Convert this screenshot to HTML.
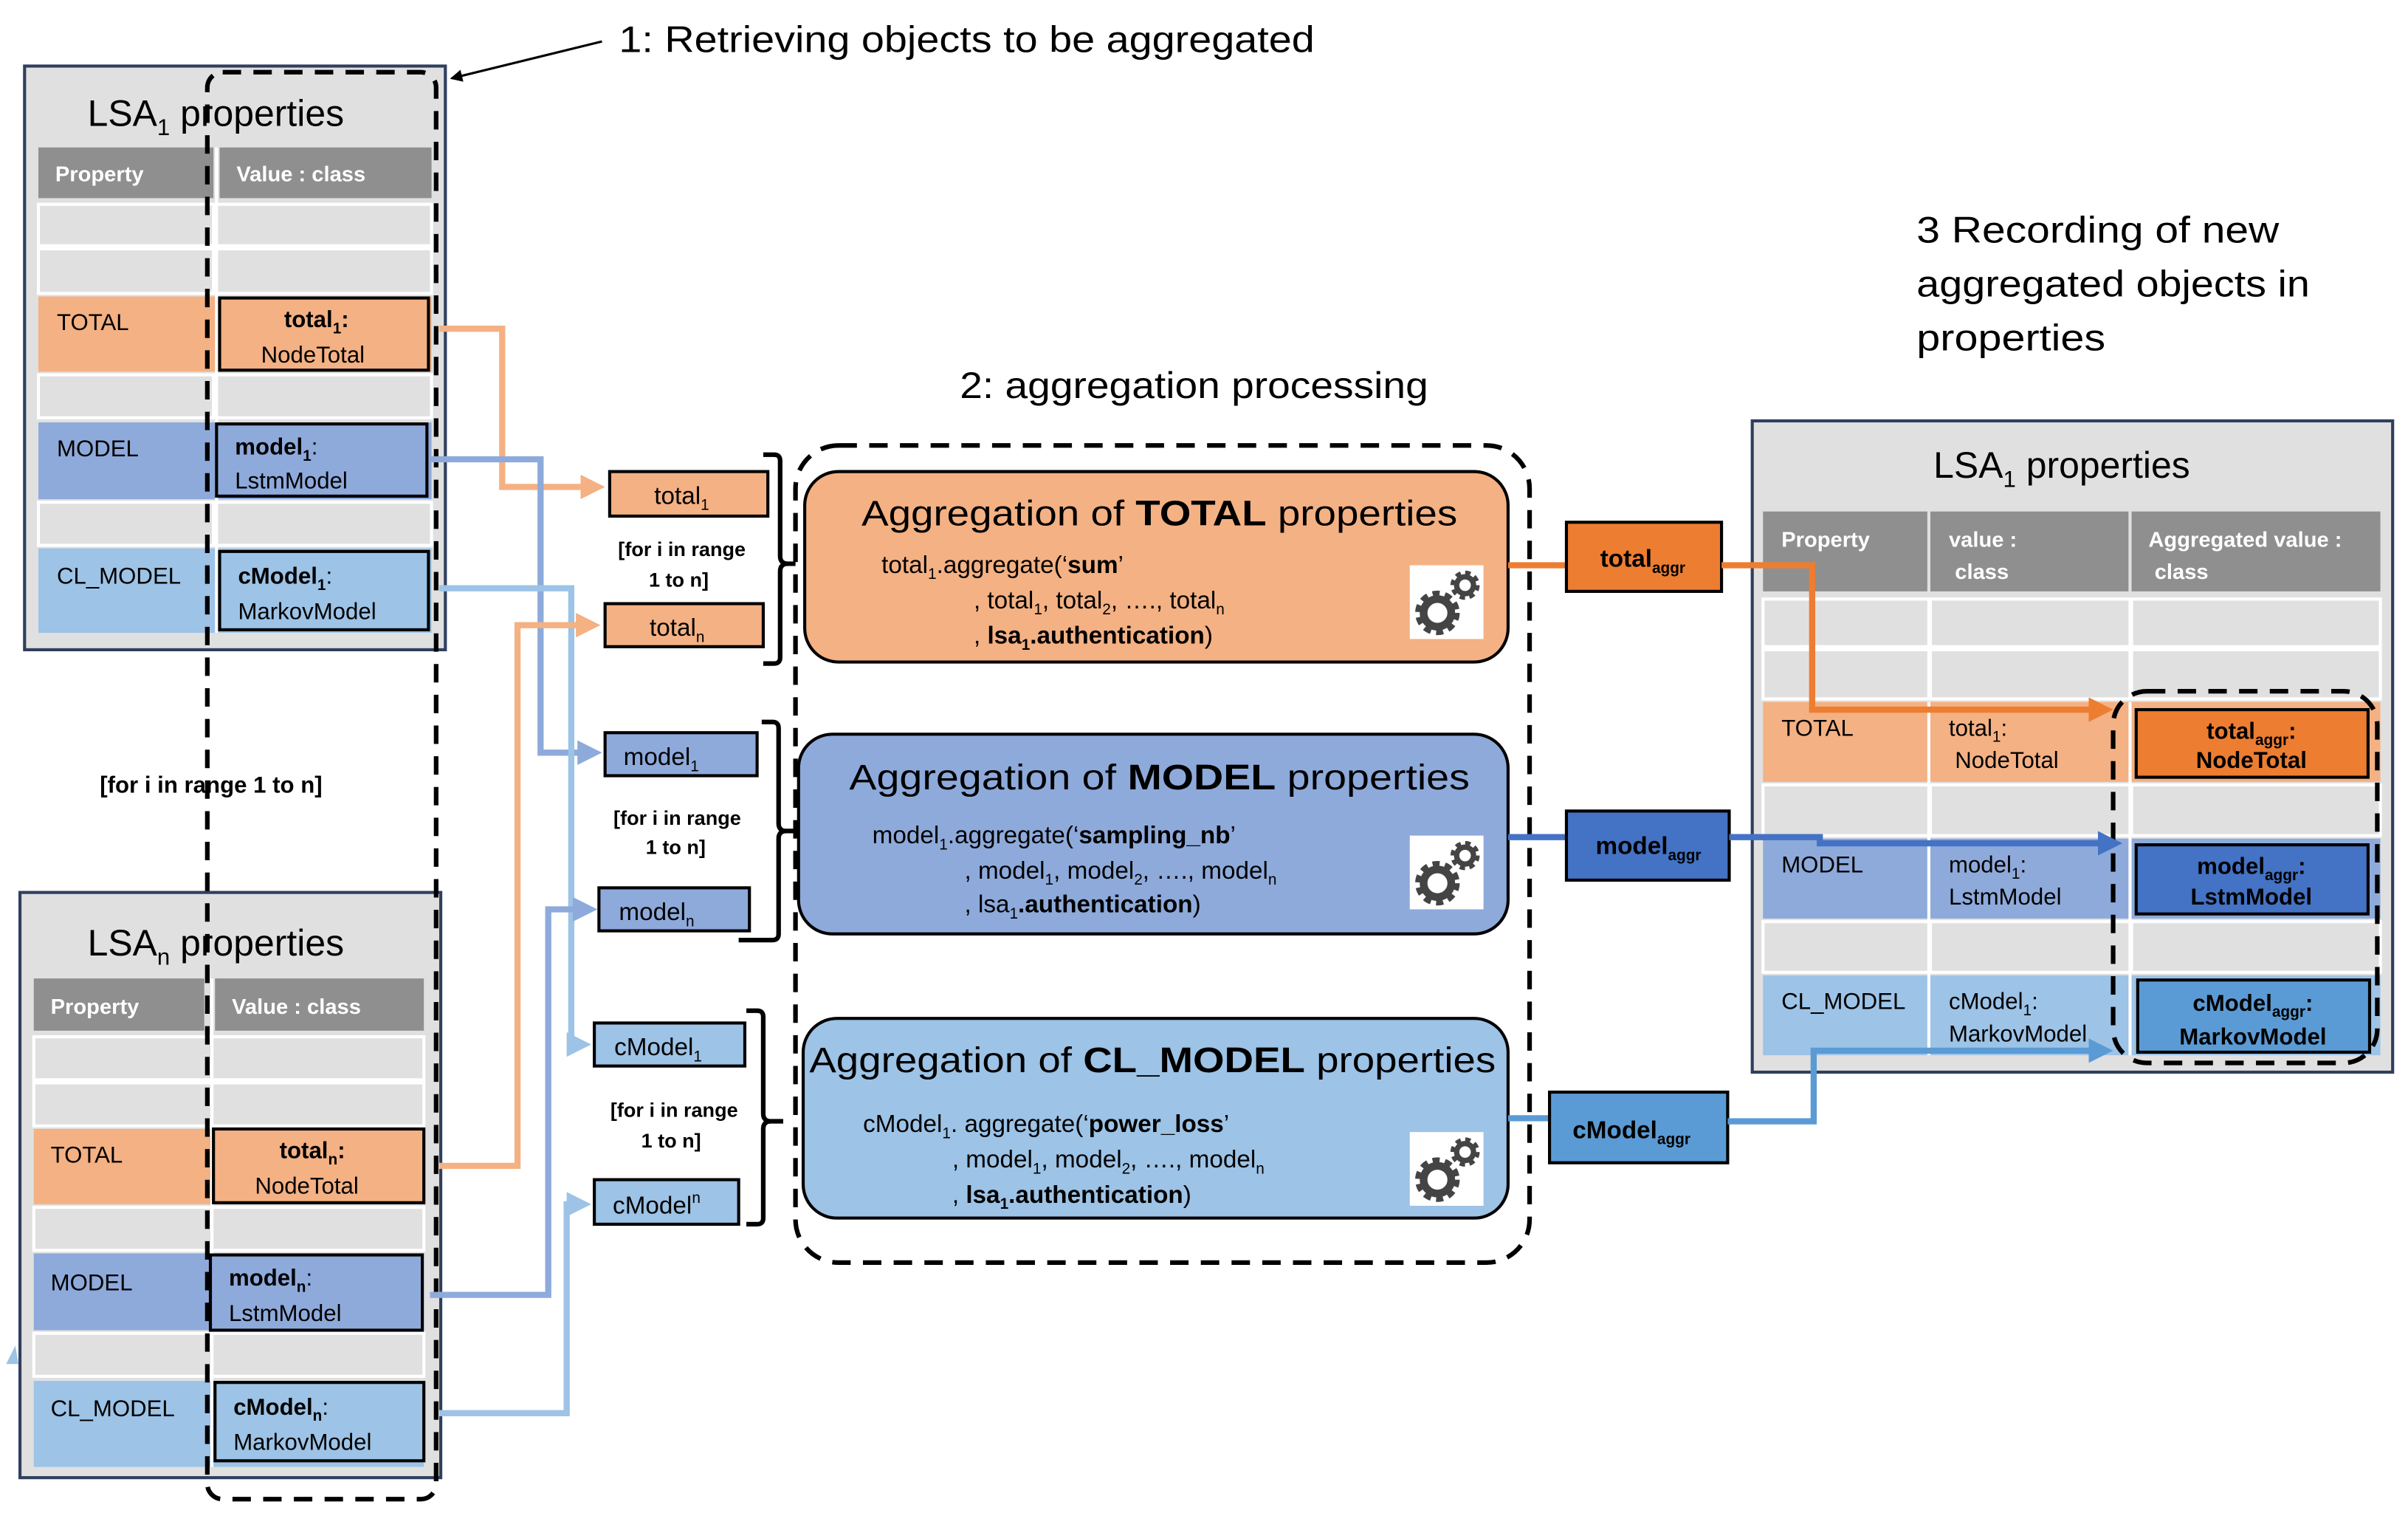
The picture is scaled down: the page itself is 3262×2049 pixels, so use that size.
<!DOCTYPE html>
<html><head><meta charset="utf-8"><style>
html,body{margin:0;padding:0;background:#fff}
svg{display:block}
text{font-family:"Liberation Sans",sans-serif;fill:#000}
.hd{fill:#fff;font-weight:bold;font-size:14px}
.c{font-size:15px}
.b{font-weight:bold}
</style></head><body>
<svg width="3262" height="2049" viewBox="0 0 1568 985" preserveAspectRatio="none" xmlns="http://www.w3.org/2000/svg">
<defs>
<marker id="ao" markerWidth="4" markerHeight="4" refX="3" refY="2" orient="auto" markerUnits="strokeWidth"><path d="M0,0 L4,2 L0,4 z" fill="#f4b183"/></marker>
<marker id="ab" markerWidth="4" markerHeight="4" refX="3" refY="2" orient="auto" markerUnits="strokeWidth"><path d="M0,0 L4,2 L0,4 z" fill="#8eaadb"/></marker>
<marker id="al" markerWidth="4" markerHeight="4" refX="3" refY="2" orient="auto" markerUnits="strokeWidth"><path d="M0,0 L4,2 L0,4 z" fill="#9dc3e6"/></marker>
<marker id="aO" markerWidth="4" markerHeight="4" refX="3" refY="2" orient="auto" markerUnits="strokeWidth"><path d="M0,0 L4,2 L0,4 z" fill="#ed7d31"/></marker>
<marker id="aB" markerWidth="4" markerHeight="4" refX="3" refY="2" orient="auto" markerUnits="strokeWidth"><path d="M0,0 L4,2 L0,4 z" fill="#4472c4"/></marker>
<marker id="aL" markerWidth="4" markerHeight="4" refX="3" refY="2" orient="auto" markerUnits="strokeWidth"><path d="M0,0 L4,2 L0,4 z" fill="#5b9bd5"/></marker>
<marker id="ak" markerWidth="8" markerHeight="8" refX="7" refY="4" orient="auto" markerUnits="userSpaceOnUse"><path d="M0,0 L8,4 L0,8 z" fill="#000"/></marker>
<g id="gear">
<rect x="0" y="0" width="48" height="48" fill="#fff"/>
<circle cx="18" cy="31" r="11" fill="none" stroke="#444" stroke-width="7" stroke-dasharray="4 3"/>
<circle cx="18" cy="31" r="9" fill="none" stroke="#444" stroke-width="5"/>
<circle cx="36" cy="13" r="7" fill="none" stroke="#444" stroke-width="5" stroke-dasharray="3 2.5"/>
<circle cx="36" cy="13" r="5.5" fill="none" stroke="#444" stroke-width="3.5"/>
</g>
</defs>

<!-- Titles -->
<text x="403" y="34" font-size="24" textLength="453" lengthAdjust="spacingAndGlyphs">1: Retrieving objects to be aggregated</text>
<line x1="392" y1="27" x2="294" y2="51" stroke="#000" stroke-width="1.5" marker-end="url(#ak)"/>
<text x="625" y="259" font-size="24" textLength="305" lengthAdjust="spacingAndGlyphs">2: aggregation processing</text>
<text x="1248" y="158" font-size="24" textLength="236" lengthAdjust="spacingAndGlyphs">3 Recording of  new</text>
<text x="1248" y="193" font-size="24" textLength="256" lengthAdjust="spacingAndGlyphs">aggregated objects in</text>
<text x="1248" y="228" font-size="24" textLength="123" lengthAdjust="spacingAndGlyphs">properties</text>

<!-- LSA1 left -->
<rect x="16" y="43" width="274" height="380" fill="#e0e0e0" stroke="#2f3f5f" stroke-width="2"/>
<text x="57" y="82" font-size="24">LSA<tspan font-size="15" dy="6">1</tspan><tspan dy="-6"> properties</tspan></text>
<rect x="25" y="96" width="114" height="33" fill="#8f8f8f"/><rect x="143" y="96" width="138" height="33" fill="#8f8f8f"/>
<text class="hd" x="36" y="118">Property</text><text class="hd" x="154" y="118">Value : class</text>
<g fill="#e0e0e0" stroke="#fff" stroke-width="2">
<rect x="25" y="133" width="114" height="27"/><rect x="141" y="133" width="140" height="27"/>
<rect x="25" y="162" width="114" height="29"/><rect x="141" y="162" width="140" height="29"/>
<rect x="25" y="244" width="114" height="28"/><rect x="141" y="244" width="140" height="28"/>
<rect x="25" y="327" width="114" height="28"/><rect x="141" y="327" width="140" height="28"/>
</g>
<rect x="25" y="193" width="256" height="49" fill="#f4b183"/>
<rect x="25" y="275" width="256" height="50" fill="#8eaadb"/>
<rect x="25" y="357" width="256" height="55" fill="#9dc3e6"/>
<line x1="141" y1="96" x2="141" y2="412" stroke="#fff" stroke-width="2"/>
<text class="c" x="37" y="215">TOTAL</text><text class="c" x="37" y="297">MODEL</text><text class="c" x="37" y="380">CL_MODEL</text>
<rect x="143" y="194" width="136" height="47" fill="#f4b183" stroke="#000" stroke-width="2"/>
<text class="c b" x="185" y="213">total<tspan font-size="10" dy="4">1</tspan><tspan dy="-4">:</tspan></text>
<text class="c" x="170" y="236">NodeTotal</text>
<rect x="141" y="276" width="137" height="47" fill="#8eaadb" stroke="#000" stroke-width="2"/>
<text class="c b" x="153" y="296">model<tspan font-size="10" dy="4">1</tspan><tspan dy="-4" font-weight="normal">:</tspan></text>
<text class="c" x="153" y="318">LstmModel</text>
<rect x="143" y="359" width="136" height="51" fill="#9dc3e6" stroke="#000" stroke-width="2"/>
<text class="c b" x="155" y="380">cModel<tspan font-size="10" dy="4">1</tspan><tspan dy="-4" font-weight="normal">:</tspan></text>
<text class="c" x="155" y="403">MarkovModel</text>

<text x="65" y="516" font-size="15" font-weight="bold">[for i in range 1 to n]</text>

<!-- LSAn -->
<rect x="13" y="581" width="274" height="381" fill="#e0e0e0" stroke="#2f3f5f" stroke-width="2"/>
<text x="57" y="622" font-size="24">LSA<tspan font-size="15" dy="6">n</tspan><tspan dy="-6"> properties</tspan></text>
<rect x="22" y="637" width="111" height="34" fill="#8f8f8f"/><rect x="140" y="637" width="136" height="34" fill="#8f8f8f"/>
<text class="hd" x="33" y="660">Property</text><text class="hd" x="151" y="660">Value : class</text>
<g fill="#e0e0e0" stroke="#fff" stroke-width="2">
<rect x="22" y="675" width="116" height="28"/><rect x="138" y="675" width="138" height="28"/>
<rect x="22" y="705" width="116" height="28"/><rect x="138" y="705" width="138" height="28"/>
<rect x="22" y="786" width="116" height="28"/><rect x="138" y="786" width="138" height="28"/>
<rect x="22" y="868" width="116" height="28"/><rect x="138" y="868" width="138" height="28"/>
</g>
<rect x="22" y="735" width="254" height="49" fill="#f4b183"/>
<rect x="22" y="816" width="254" height="50" fill="#8eaadb"/>
<rect x="22" y="899" width="254" height="56" fill="#9dc3e6"/>
<line x1="138" y1="637" x2="138" y2="955" stroke="#fff" stroke-width="2"/>
<text class="c" x="33" y="757">TOTAL</text><text class="c" x="33" y="840">MODEL</text><text class="c" x="33" y="922">CL_MODEL</text>
<rect x="139" y="735" width="137" height="48" fill="#f4b183" stroke="#000" stroke-width="2"/>
<text class="c b" x="182" y="754">total<tspan font-size="10" dy="4">n</tspan><tspan dy="-4">:</tspan></text>
<text class="c" x="166" y="777">NodeTotal</text>
<rect x="137" y="817" width="138" height="49" fill="#8eaadb" stroke="#000" stroke-width="2"/>
<text class="c b" x="149" y="837">model<tspan font-size="10" dy="4">n</tspan><tspan dy="-4" font-weight="normal">:</tspan></text>
<text class="c" x="149" y="860">LstmModel</text>
<rect x="140" y="900" width="136" height="51" fill="#9dc3e6" stroke="#000" stroke-width="2"/>
<text class="c b" x="152" y="921">cModel<tspan font-size="10" dy="4">n</tspan><tspan dy="-4" font-weight="normal">:</tspan></text>
<text class="c" x="152" y="944">MarkovModel</text>
<path d="M4,888 L10,876 L12,888" fill="#9dc3e6"/>

<!-- dashed retrieval column -->
<rect x="135" y="47" width="149" height="929" rx="10" fill="none" stroke="#000" stroke-width="3" stroke-dasharray="12 8"/>

<!-- connectors left -->
<g fill="none" stroke-width="4">
<path d="M286,214 H327 V317 H390" stroke="#f4b183" marker-end="url(#ao)"/>
<path d="M280,299 H352 V490 H388" stroke="#8eaadb" marker-end="url(#ab)"/>
<path d="M286,383 H372 V680 H381" stroke="#9dc3e6" marker-end="url(#al)"/>
<path d="M286,759 H337 V407 H387" stroke="#f4b183" marker-end="url(#ao)"/>
<path d="M280,843 H357 V592 H385" stroke="#8eaadb" marker-end="url(#ab)"/>
<path d="M286,920 H369 V784 H381" stroke="#9dc3e6" marker-end="url(#al)"/>
</g>

<!-- small boxes -->
<g stroke="#000" stroke-width="2">
<rect x="397" y="307" width="103" height="29" fill="#f4b183"/>
<rect x="394" y="393" width="103" height="28" fill="#f4b183"/>
<rect x="394" y="477" width="99" height="28" fill="#8eaadb"/>
<rect x="390" y="578" width="98" height="28" fill="#8eaadb"/>
<rect x="387" y="666" width="98" height="28" fill="#9dc3e6"/>
<rect x="387" y="768" width="94" height="29" fill="#9dc3e6"/>
</g>
<g font-size="16">
<text x="426" y="328">total<tspan font-size="10" dy="4">1</tspan></text>
<text x="423" y="414">total<tspan font-size="10" dy="4">n</tspan></text>
<text x="406" y="498">model<tspan font-size="10" dy="4">1</tspan></text>
<text x="403" y="599">model<tspan font-size="10" dy="4">n</tspan></text>
<text x="400" y="687">cModel<tspan font-size="10" dy="4">1</tspan></text>
<text x="399" y="790">cModel<tspan font-size="10" dy="-7">n</tspan></text>
</g>
<g font-size="13" font-weight="bold" text-anchor="middle">
<text x="444" y="362">[for i in range</text><text x="442" y="382">1 to n]</text>
<text x="441" y="537">[for i in range</text><text x="440" y="556">1 to n]</text>
<text x="439" y="727">[for i in range</text><text x="437" y="747">1 to n]</text>
</g>
<g fill="none" stroke="#000" stroke-width="3">
<path d="M497,296 H504 Q508,296 508,300 V362 Q508,367 513,367 H518 M513,367 Q508,367 508,372 V428 Q508,432 504,432 H497"/>
<path d="M496,470 H503 Q507,470 507,474 V536 Q507,541 512,541 H518 M512,541 Q507,541 507,546 V608 Q507,612 503,612 H481"/>
<path d="M486,658 H493 Q497,658 497,662 V725 Q497,730 502,730 H510 M502,730 Q497,730 497,735 V793 Q497,797 493,797 H486"/>
</g>

<!-- aggregation dashed box -->
<rect x="518" y="290" width="478" height="532" rx="28" fill="none" stroke="#000" stroke-width="3" stroke-dasharray="12 8"/>

<!-- aggregation boxes -->
<rect x="524" y="307" width="458" height="124" rx="22" fill="#f4b183" stroke="#000" stroke-width="2"/>
<text x="561" y="342" font-size="23" textLength="388" lengthAdjust="spacingAndGlyphs">Aggregation of <tspan font-weight="bold">TOTAL</tspan> properties</text>
<g font-size="16">
<text x="574" y="373">total<tspan font-size="10" dy="4">1</tspan><tspan dy="-4">.aggregate(‘</tspan><tspan font-weight="bold">sum</tspan>’</text>
<text x="634" y="396">, total<tspan font-size="10" dy="4">1</tspan><tspan dy="-4">, total</tspan><tspan font-size="10" dy="4">2</tspan><tspan dy="-4">, …., total</tspan><tspan font-size="10" dy="4">n</tspan></text>
<text x="634" y="419">, <tspan font-weight="bold">lsa</tspan><tspan font-size="10" dy="4" font-weight="bold">1</tspan><tspan dy="-4" font-weight="bold">.authentication</tspan>)</text>
</g>
<use href="#gear" x="918" y="368"/>

<rect x="520" y="478" width="462" height="130" rx="22" fill="#8eaadb" stroke="#000" stroke-width="2"/>
<text x="553" y="514" font-size="23" textLength="404" lengthAdjust="spacingAndGlyphs">Aggregation of <tspan font-weight="bold">MODEL</tspan> properties</text>
<g font-size="16">
<text x="568" y="549">model<tspan font-size="10" dy="4">1</tspan><tspan dy="-4">.aggregate(‘</tspan><tspan font-weight="bold">sampling_nb</tspan>’</text>
<text x="628" y="572">, model<tspan font-size="10" dy="4">1</tspan><tspan dy="-4">, model</tspan><tspan font-size="10" dy="4">2</tspan><tspan dy="-4">, …., model</tspan><tspan font-size="10" dy="4">n</tspan></text>
<text x="628" y="594">, lsa<tspan font-size="10" dy="4">1</tspan><tspan dy="-4" font-weight="bold">.authentication</tspan>)</text>
</g>
<use href="#gear" x="918" y="544"/>

<rect x="523" y="663" width="459" height="130" rx="22" fill="#9dc3e6" stroke="#000" stroke-width="2"/>
<text x="527" y="698" font-size="23" textLength="447" lengthAdjust="spacingAndGlyphs">Aggregation of <tspan font-weight="bold">CL_MODEL</tspan> properties</text>
<g font-size="16">
<text x="562" y="737">cModel<tspan font-size="10" dy="4">1</tspan><tspan dy="-4">. aggregate(‘</tspan><tspan font-weight="bold">power_loss</tspan>’</text>
<text x="620" y="760">, model<tspan font-size="10" dy="4">1</tspan><tspan dy="-4">, model</tspan><tspan font-size="10" dy="4">2</tspan><tspan dy="-4">, …., model</tspan><tspan font-size="10" dy="4">n</tspan></text>
<text x="620" y="783">, <tspan font-weight="bold">lsa</tspan><tspan font-size="10" dy="4" font-weight="bold">1</tspan><tspan dy="-4" font-weight="bold">.authentication</tspan>)</text>
</g>
<use href="#gear" x="918" y="737"/>

<!-- output lines -->
<g stroke-width="4" fill="none">
<line x1="982" y1="368" x2="1020" y2="368" stroke="#ed7d31"/>
<line x1="982" y1="545" x2="1020" y2="545" stroke="#4472c4"/>
<line x1="982" y1="728" x2="1009" y2="728" stroke="#5b9bd5"/>
</g>

<!-- Right LSA1 -->
<rect x="1141" y="274" width="417" height="424" fill="#e0e0e0" stroke="#2f3f5f" stroke-width="2"/>
<text x="1259" y="311" font-size="24">LSA<tspan font-size="15" dy="6">1</tspan><tspan dy="-6"> properties</tspan></text>
<rect x="1148" y="333" width="107" height="52" fill="#8f8f8f"/>
<rect x="1257" y="333" width="129" height="52" fill="#8f8f8f"/>
<rect x="1388" y="333" width="162" height="52" fill="#8f8f8f"/>
<text class="hd" x="1160" y="356">Property</text>
<text class="hd" x="1269" y="356">value :</text><text class="hd" x="1273" y="377">class</text>
<text class="hd" x="1399" y="356">Aggregated value :</text><text class="hd" x="1403" y="377">class</text>
<g fill="#e0e0e0" stroke="#fff" stroke-width="2">
<rect x="1148" y="390" width="108" height="31"/><rect x="1257" y="390" width="130" height="31"/><rect x="1388" y="390" width="162" height="31"/>
<rect x="1148" y="423" width="108" height="32"/><rect x="1257" y="423" width="130" height="32"/><rect x="1388" y="423" width="162" height="32"/>
<rect x="1148" y="511" width="108" height="33"/><rect x="1257" y="511" width="130" height="33"/><rect x="1388" y="511" width="162" height="33"/>
<rect x="1148" y="600" width="108" height="33"/><rect x="1257" y="600" width="130" height="33"/><rect x="1388" y="600" width="162" height="33"/>
</g>
<rect x="1148" y="457" width="402" height="52" fill="#f4b183"/>
<rect x="1148" y="546" width="402" height="52" fill="#8eaadb"/>
<rect x="1148" y="635" width="402" height="52" fill="#9dc3e6"/>
<line x1="1256" y1="457" x2="1256" y2="687" stroke="#fff" stroke-width="2"/>
<line x1="1387" y1="457" x2="1387" y2="687" stroke="#fff" stroke-width="2"/>
<text class="c" x="1160" y="479">TOTAL</text><text class="c" x="1160" y="568">MODEL</text><text class="c" x="1160" y="657">CL_MODEL</text>
<text class="c" x="1269" y="479">total<tspan font-size="10" dy="4">1</tspan><tspan dy="-4">:</tspan></text>
<text class="c" x="1273" y="500">NodeTotal</text>
<text class="c" x="1269" y="568">model<tspan font-size="10" dy="4">1</tspan><tspan dy="-4">:</tspan></text>
<text class="c" x="1269" y="589">LstmModel</text>
<text class="c" x="1269" y="657">cModel<tspan font-size="10" dy="4">1</tspan><tspan dy="-4">:</tspan></text>
<text class="c" x="1269" y="678">MarkovModel</text>

<rect x="1391" y="462" width="151" height="44" fill="#ed7d31" stroke="#000" stroke-width="2"/>
<text class="c b" x="1466" y="481" text-anchor="middle">total<tspan font-size="10" dy="4">aggr</tspan><tspan dy="-4">:</tspan></text>
<text class="c b" x="1466" y="500" text-anchor="middle">NodeTotal</text>
<rect x="1391" y="550" width="151" height="45" fill="#4472c4" stroke="#000" stroke-width="2"/>
<text class="c b" x="1466" y="569" text-anchor="middle">model<tspan font-size="10" dy="4">aggr</tspan><tspan dy="-4">:</tspan></text>
<text class="c b" x="1466" y="589" text-anchor="middle">LstmModel</text>
<rect x="1392" y="638" width="151" height="47" fill="#5b9bd5" stroke="#000" stroke-width="2"/>
<text class="c b" x="1467" y="658" text-anchor="middle" font-size="16">cModel<tspan font-size="10" dy="4">aggr</tspan><tspan dy="-4">:</tspan></text>
<text class="c b" x="1467" y="680" text-anchor="middle" font-size="16">MarkovModel</text>
<rect x="1376" y="450" width="172" height="242" rx="22" fill="none" stroke="#000" stroke-width="3" stroke-dasharray="12 8"/>

<!-- aggr boxes -->
<rect x="1020" y="340" width="101" height="45" fill="#ed7d31" stroke="#000" stroke-width="2"/>
<text class="b" x="1042" y="369" font-size="16">total<tspan font-size="10" dy="4">aggr</tspan></text>
<rect x="1020" y="528" width="106" height="45" fill="#4472c4" stroke="#000" stroke-width="2"/>
<text class="b" x="1039" y="556" font-size="16">model<tspan font-size="10" dy="4">aggr</tspan></text>
<rect x="1009" y="711" width="116" height="46" fill="#5b9bd5" stroke="#000" stroke-width="2"/>
<text class="b" x="1024" y="741" font-size="16">cModel<tspan font-size="10" dy="4">aggr</tspan></text>

<g fill="none" stroke-width="4">
<path d="M1121,368 H1180 V462 H1372" stroke="#ed7d31" marker-end="url(#aO)"/>
<path d="M1126,545 H1185 V549 H1378" stroke="#4472c4" marker-end="url(#aB)"/>
<path d="M1125,730 H1181 V684 H1372" stroke="#5b9bd5" marker-end="url(#aL)"/>
</g>
</svg>
</body></html>
